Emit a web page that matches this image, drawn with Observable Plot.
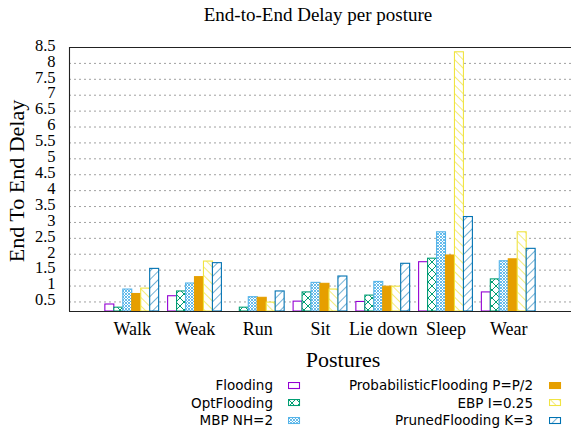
<!DOCTYPE html>
<html><head><meta charset="utf-8">
<script src="https://cdn.jsdelivr.net/npm/d3@7"></script>
<script src="https://cdn.jsdelivr.net/npm/@observablehq/plot@0.6"></script>
<style>
html,body{margin:0;padding:0;background:#fff;}
#wrap{position:relative;width:571px;height:431px;overflow:hidden;font-family:"Liberation Serif","Times New Roman",serif;color:#000;}
.lbl{position:absolute;white-space:nowrap;transform:translate(-50%,-50%);}
.leg{position:absolute;white-space:nowrap;font-family:"DejaVu Sans",sans-serif;font-size:13.5px;line-height:14px;text-align:right;}
.sw{position:absolute;}
</style></head><body><div id="wrap"></div>
<script>
// ---- data ----
const categories = ["Walk", "Weak", "Run", "Sit", "Lie down", "Sleep", "Wear"];
const seriesNames = ["Flooding", "OptFlooding", "MBP NH=2", "ProbabilisticFlooding P=P/2", "EBP I=0.25", "PrunedFlooding K=3"];
const flooding      = [0.42, 0.68, 0.20, 0.51, 0.50, 1.75, 0.80];
const optFlooding   = [0.32, 0.83, 0.32, 0.80, 0.70, 1.86, 1.21];
const mbp           = [0.89, 1.08, 0.65, 1.10, 1.13, 2.69, 1.78];
const probabilistic = [0.75, 1.28, 0.63, 1.07, 0.98, 1.96, 1.84];
const ebp           = [0.92, 1.77, 0.48, 0.89, 0.98, 8.35, 2.69];
const pruned        = [1.54, 1.72, 0.83, 1.30, 1.70, 3.17, 2.17];
const yTicks = [0.5, 1, 1.5, 2, 2.5, 3, 3.5, 4, 4.5, 5, 5.5, 6, 6.5, 7, 7.5, 8, 8.5];
const title = "End-to-End Delay per posture";
const xLabel = "Postures";
const yLabel = "End To End Delay";

// ---- styling ----
const seriesValues = [flooding, optFlooding, mbp, probabilistic, ebp, pruned];
const colors = ["#9400d3", "#009e73", "#56b4e9", "#e69f00", "#f0e442", "#0072b2"];
const fills = ["#ffffff", "url(#pOpt)", "url(#pMbp)", "#e69f00", "url(#pEbp)", "url(#pPru)"];
const xDomain = [-1, 7];
const yDomain = [0.2, 8.5];
const nSeries = seriesNames.length;
const gap = 1; // gnuplot histogram gap
const barW = 1 / (nSeries + gap);

const wrap = document.getElementById("wrap");
wrap.innerHTML = `<svg width="0" height="0" style="position:absolute;left:0;top:0"><defs>
<pattern id="pOpt" patternUnits="userSpaceOnUse" width="8" height="8"><rect width="8" height="8" fill="#fff"/><path d="M0,0L8,8M8,0L0,8" stroke="#009e73" stroke-width="1" fill="none"/></pattern>
<pattern id="pMbp" patternUnits="userSpaceOnUse" width="3" height="3"><rect width="3" height="3" fill="#fff"/><path d="M0,0L3,3M3,0L0,3" stroke="#56b4e9" stroke-width="0.9" fill="none"/></pattern>
<pattern id="pEbp" patternUnits="userSpaceOnUse" width="6" height="6" patternTransform="rotate(-45)"><rect width="6" height="6" fill="#fff"/><path d="M0,0L0,6" stroke="#f0e442" stroke-width="1.4" fill="none"/></pattern>
<pattern id="pPru" patternUnits="userSpaceOnUse" width="6" height="6" patternTransform="rotate(45)"><rect width="6" height="6" fill="#fff"/><path d="M0,0L0,6" stroke="#0072b2" stroke-width="1.1" fill="none"/></pattern>
</defs></svg>`;

// title
const t = document.createElement("div");
t.className = "lbl"; t.textContent = title;
Object.assign(t.style, {left: "318px", top: "14px", fontSize: "19px", lineHeight: "19px"});
wrap.appendChild(t);

const barMarks = seriesValues.map((vals, j) => {
  const data = categories.map((c, i) => ({i, v: vals[i]}));
  return Plot.rect(data, {
    x1: d => d.i + (j - nSeries / 2) * barW,
    x2: d => d.i + (j + 1 - nSeries / 2) * barW,
    y1: () => yDomain[0],
    y2: d => d.v,
    fill: fills[j],
    stroke: colors[j],
    strokeWidth: 1.1
  });
});

const plot = Plot.plot({
  width: 571, height: 340,
  marginTop: 17, marginBottom: 59, marginLeft: 69, marginRight: 0,
  x: {type: "linear", domain: xDomain},
  y: {domain: yDomain},
  style: {fontFamily: "'Liberation Serif', 'Times New Roman', serif", background: "transparent", color: "#000"},
  marks: [
    Plot.ruleY(yTicks.filter(v => v < yDomain[1]), {stroke: "#a0a0a0", strokeDasharray: "2,3", strokeWidth: 1}),
    ...barMarks,
    Plot.ruleY(yDomain, {stroke: "#222", strokeWidth: 1.1}),
    Plot.ruleX([xDomain[0]], {stroke: "#222", strokeWidth: 1.1}),
    Plot.axisX({ticks: d3.range(categories.length), tickFormat: i => categories[i], tickSize: 0, tickPadding: 11, fontSize: 18, label: null}),
    Plot.axisY({ticks: yTicks, tickFormat: d => String(d), tickSize: 0, tickPadding: 14, fontSize: 16.5, label: null, dy: -2})
  ]
});
plot.style.position = "absolute";
plot.style.left = "0px";
plot.style.top = "30px";
wrap.appendChild(plot);

// axis labels
const yl = document.createElement("div");
yl.className = "lbl"; yl.textContent = yLabel;
Object.assign(yl.style, {left: "17px", top: "181px", fontSize: "22px", lineHeight: "22px", transform: "translate(-50%,-50%) rotate(-90deg)"});
wrap.appendChild(yl);
const xl = document.createElement("div");
xl.className = "lbl"; xl.textContent = xLabel;
Object.assign(xl.style, {left: "343px", top: "359.7px", fontSize: "22px", lineHeight: "22px"});
wrap.appendChild(xl);

// legend
const textRight = [273, 533];
const swatchX = [288, 549];
const rowY = [385, 402.5, 420];
seriesNames.forEach((name, j) => {
  const col = Math.floor(j / 3), row = j % 3;
  const tx = document.createElement("div");
  tx.className = "leg"; tx.textContent = name;
  tx.style.right = (571 - textRight[col]) + "px";
  tx.style.top = (rowY[row] - 7) + "px";
  wrap.appendChild(tx);
  const sw = document.createElement("div");
  sw.className = "sw";
  sw.style.left = (swatchX[col] - 0.5) + "px";
  sw.style.top = (rowY[row] - 3.5) + "px";
  sw.innerHTML = `<svg width="13" height="8" style="display:block"><rect x="0.5" y="0.5" width="11" height="6" fill="${fills[j]}" stroke="${colors[j]}" stroke-width="1.1"/></svg>`;
  wrap.appendChild(sw);
});
</script></body></html>
